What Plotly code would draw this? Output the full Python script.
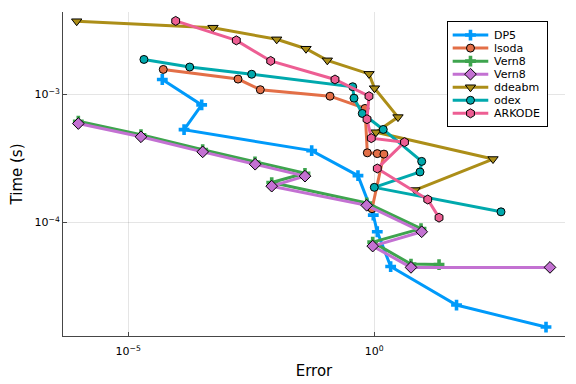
import plotly.graph_objects as go

# ---- data (Error, Time) ----
dp5_err = [4.91e-5, 3.10e-4, 1.36e-4, 0.0534, 0.466, 0.954, 1.15, 2.15, 46.9, 3090]
dp5_time = [1.31e-3, 8.29e-4, 5.31e-4, 3.64e-4, 2.32e-4, 1.14e-4, 8.45e-5, 4.52e-5, 2.26e-5, 1.52e-5]

lsoda_err = [5.14e-5, 1.70e-3, 4.82e-3, 0.126, 0.647, 0.721, 1.15, 1.57, 0.898]
lsoda_time = [1.57e-3, 1.32e-3, 1.09e-3, 9.70e-4, 7.78e-4, 3.50e-4, 3.45e-4, 3.42e-4, 1.28e-4]

vern8a_err = [9.64e-7, 1.81e-5, 3.25e-4, 3.76e-3, 0.0390, 8.22e-3, 0.701, 8.90, 0.928, 5.57, 20.7]
vern8a_time = [6.18e-4, 4.85e-4, 3.71e-4, 2.97e-4, 2.42e-4, 2.05e-4, 1.42e-4, 8.95e-5, 7.01e-5, 4.72e-5, 4.68e-5]

vern8b_err = [9.64e-7, 1.81e-5, 3.25e-4, 3.79e-3, 0.0390, 8.22e-3, 0.701, 9.19, 0.928, 5.57, 3724]
vern8b_time = [5.93e-4, 4.67e-4, 3.56e-4, 2.85e-4, 2.30e-4, 1.92e-4, 1.36e-4, 8.45e-5, 6.53e-5, 4.45e-5, 4.45e-5]

ddeabm_err = [8.94e-7, 5.27e-4, 0.01038, 0.0409, 0.111, 0.780, 1.01, 3.03, 1.08, 258.6, 6.72]
ddeabm_time = [3.74e-3, 3.33e-3, 2.70e-3, 2.28e-3, 1.85e-3, 1.45e-3, 1.12e-3, 6.66e-4, 5.07e-4, 3.13e-4, 1.79e-4]

odex_err = [2.08e-5, 1.77e-4, 3.22e-3, 0.364, 0.387, 0.570, 1.52, 9.19, 8.49, 1.00, 376]
odex_time = [1.88e-3, 1.64e-3, 1.44e-3, 1.15e-3, 9.36e-4, 7.11e-4, 5.33e-4, 3.00e-4, 2.48e-4, 1.88e-4, 1.21e-4]

arkode_err = [9.19e-5, 1.57e-3, 7.84e-3, 0.159, 0.780, 0.711, 0.869, 4.11, 1.15, 12.2, 20.7]
arkode_time = [3.76e-3, 2.65e-3, 1.83e-3, 1.31e-3, 9.70e-4, 6.41e-4, 4.56e-4, 4.24e-4, 2.64e-4, 1.51e-4, 1.09e-4]

x_tickvals = [1e-5, 1e0]
x_ticktext = ["10<sup>−5</sup>", "10<sup>0</sup>"]
y_tickvals = [1e-4, 1e-3]
y_ticktext = ["10<sup>−4</sup>", "10<sup>−3</sup>"]

series = [
    ("DP5", dp5_err, dp5_time, "#009AFA", "cross", 9, 0),
    ("lsoda", lsoda_err, lsoda_time, "#E36F47", "circle", 8, 1),
    ("Vern8", vern8a_err, vern8a_time, "#3EA44E", "cross", 9, 0),
    ("Vern8", vern8b_err, vern8b_time, "#C371D2", "diamond", 9, 1),
    ("ddeabm", ddeabm_err, ddeabm_time, "#AC8E18", "triangle-down", 9, 1),
    ("odex", odex_err, odex_time, "#00A9AD", "circle", 8, 1),
    ("ARKODE", arkode_err, arkode_time, "#ED5E93", "hexagon", 9, 1),
]

fig = go.Figure()
for name, xs, ys, col, sym, sz, lw in series:
    fig.add_trace(go.Scatter(
        x=xs, y=ys, mode="lines+markers", name=name, showlegend=False,
        line=dict(color=col, width=3),
        marker=dict(symbol=sym, size=sz, color=col,
                    line=dict(color="black" if lw else col, width=lw)),
    ))

# ---- compact legend drawn in its own small subplot (layout only) ----
n = len(series)
box_h = 104.0
step = 13.05
for i, (name, xs, ys, col, sym, sz, lw) in enumerate(series):
    yy = 1 - (13 + step * i) / box_h
    fig.add_trace(go.Scatter(
        x=[0.047, 0.407], y=[yy, yy], mode="lines", showlegend=False, hoverinfo="skip",
        line=dict(color=col, width=3), xaxis="x2", yaxis="y2"))
    fig.add_trace(go.Scatter(
        x=[0.227], y=[yy], mode="markers", showlegend=False, hoverinfo="skip",
        marker=dict(symbol=sym, size=sz, color=col,
                    line=dict(color="black" if lw else col, width=lw)),
        xaxis="x2", yaxis="y2"))
    fig.add_annotation(x=0.44, y=yy, xref="x2", yref="y2", text=name, showarrow=False,
                       xanchor="left", yanchor="middle",
                       font=dict(size=11, color="black", family="DejaVu Sans"))

axis_common = dict(
    type="log", showgrid=True, gridcolor="rgba(0,0,0,0.1)", gridwidth=0.5,
    zeroline=False, showline=True, linecolor="rgb(70,70,70)", linewidth=1,
    ticks="inside", ticklen=4, tickcolor="rgb(70,70,70)",
    tickfont=dict(size=11, color="black", family="DejaVu Sans"),
    mirror=False, automargin=False,
)
leg_axis = dict(range=[0, 1], showgrid=False, zeroline=False, showticklabels=False,
                ticks="", showline=True, linecolor="black", linewidth=1, mirror=True,
                fixedrange=True, automargin=False)

fig.update_layout(
    width=568, height=376,
    margin=dict(l=55, r=11, t=4, b=48),
    paper_bgcolor="white", plot_bgcolor="white",
    font=dict(family="DejaVu Sans", color="black"),
    xaxis=dict(axis_common, range=[-6.327, 3.876], tickvals=x_tickvals, ticktext=x_ticktext,
               ticklabelstandoff=5,
               title=dict(text="Error", font=dict(size=15), standoff=8)),
    yaxis=dict(axis_common, range=[-4.888, -2.355], tickvals=y_tickvals, ticktext=y_ticktext,
               title=dict(text="Time (s)", font=dict(size=15), standoff=18)),
    xaxis2=dict(leg_axis, domain=[0.767, 0.964], anchor="y2"),
    yaxis2=dict(leg_axis, domain=[0.648, 0.969], anchor="x2"),
    showlegend=False,
)

fig.write_html("out.html")
